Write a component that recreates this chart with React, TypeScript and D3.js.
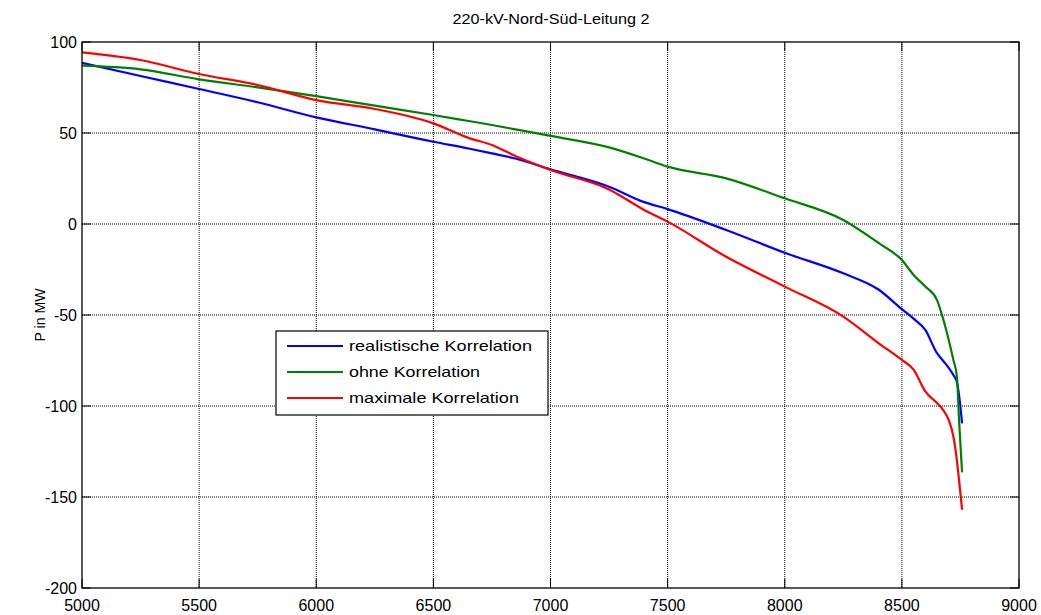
import React from "react";
import * as d3 from "d3";

const xTicks = [5000, 5500, 6000, 6500, 7000, 7500, 8000, 8500, 9000];
const yTicks = [100, 50, 0, -50, -100, -150, -200];

const hours = [5000, 5250, 5500, 5750, 6000, 6250, 6500, 6650, 6750, 6850, 7000, 7250, 7400, 7500, 7750, 8000, 8250, 8400, 8500, 8550, 8600, 8650, 8675, 8700, 8720, 8735, 8745, 8757];

const realistic = [88.5, 81.3, 74.2, 66.9, 58.6, 52, 45.2, 41.5, 38.8, 36, 30, 20.5, 12, 8.2, -3.3, -15.8, -27.1, -36, -46.8, -52, -58.2, -71, -75, -79, -83, -87, -95, -109.5];
const ohne = [87, 85, 79.5, 75.1, 70.3, 65, 59.9, 56.6, 54.4, 52, 48.4, 42.1, 36, 31.5, 25.1, 14.1, 2.2, -10.4, -19.8, -28, -34.4, -41.8, -51.6, -63.7, -74.7, -84, -110, -136.5];
const maximal = [94.3, 90.1, 82.4, 76.4, 68.1, 63.2, 55.3, 47.3, 43.4, 37.4, 29.7, 19, 7.7, 1.3, -18, -34.4, -50.9, -65.4, -74.7, -80, -92, -98.4, -102, -107.7, -116.9, -130, -142, -157];

const seriesNames = ["realistische Korrelation", "ohne Korrelation", "maximale Korrelation"];
const seriesColors = ["#0000ff", "#008000", "#ff0000"];
const seriesValues = [realistic, ohne, maximal];
const legendWidths = [183, 131, 170];

export default function App() {
  const W = 1041, H = 615;
  const left = 82, right = 1019, top = 42, bottom = 588;
  const x = d3.scaleLinear().domain([5000, 9000]).range([left, right]);
  const y = d3.scaleLinear().domain([-200, 100]).range([bottom, top]);
  const font = "'Liberation Sans', Arial, sans-serif";

  const line = d3
    .line<[number, number]>()
    .x((d) => x(d[0]))
    .y((d) => y(d[1]))
    .curve(d3.curveMonotoneX);

  return (
    <svg width={W} height={H} style={{ position: "absolute", left: 0, top: 0, background: "#fff" }} fontFamily={font}>
      <rect x={0} y={0} width={W} height={H} fill="#fff" />
      {xTicks.slice(1, -1).map((t) => (
        <line key={"gx" + t} x1={x(t)} x2={x(t)} y1={top} y2={bottom} stroke="#000" strokeWidth={1} strokeDasharray="1,1" />
      ))}
      {yTicks.slice(1, -1).map((t) => (
        <line key={"gy" + t} x1={left} x2={right} y1={y(t)} y2={y(t)} stroke="#000" strokeWidth={1} strokeDasharray="1,1" />
      ))}
      {xTicks.map((t) => (
        <g key={"tx" + t}>
          <line x1={x(t)} x2={x(t)} y1={bottom} y2={bottom - 9} stroke="#000" />
          <line x1={x(t)} x2={x(t)} y1={top} y2={top + 9} stroke="#000" />
          <text x={x(t)} y={bottom + 23} fontSize={16} textAnchor="middle" fill="#000">{t}</text>
        </g>
      ))}
      {yTicks.map((t) => (
        <g key={"ty" + t}>
          <line x1={left} x2={left + 9} y1={y(t)} y2={y(t)} stroke="#000" />
          <line x1={right} x2={right - 9} y1={y(t)} y2={y(t)} stroke="#000" />
          <text x={left - 5} y={y(t) + 6} fontSize={16} textAnchor="end" fill="#000">{t}</text>
        </g>
      ))}
      {seriesValues.map((vals, i) => (
        <path
          key={"s" + i}
          d={line(hours.map((h, j) => [h, vals[j]] as [number, number])) || ""}
          fill="none"
          stroke={seriesColors[i]}
          strokeWidth={2.2}
          strokeLinejoin="round"
        />
      ))}
      <rect x={left} y={top} width={right - left} height={bottom - top} fill="none" stroke="#000" strokeWidth={1.3} />
      <text x={551} y={24} fontSize={15} textAnchor="middle" fill="#000" textLength={197} lengthAdjust="spacingAndGlyphs">220-kV-Nord-Süd-Leitung 2</text>
      <text transform={`translate(${45},${(top + bottom) / 2}) rotate(-90)`} fontSize={15} textAnchor="middle" fill="#000" textLength={53} lengthAdjust="spacingAndGlyphs">P in MW</text>
      <rect x={276} y={331} width={272} height={84} fill="#fff" stroke="#000" strokeWidth={1.2} />
      {seriesNames.map((n, i) => (
        <g key={"l" + i}>
          <line x1={287} x2={343} y1={346 + i * 26} y2={346 + i * 26} stroke={seriesColors[i]} strokeWidth={2.2} />
          <text x={349} y={351 + i * 26} fontSize={15} fill="#000" textLength={legendWidths[i]} lengthAdjust="spacingAndGlyphs">{n}</text>
        </g>
      ))}
    </svg>
  );
}
